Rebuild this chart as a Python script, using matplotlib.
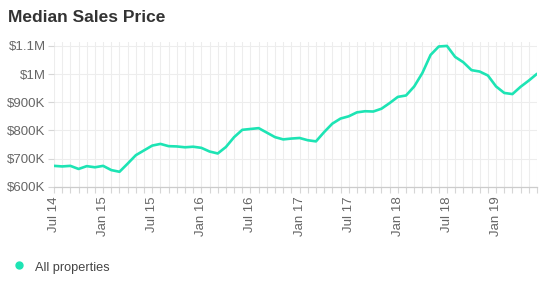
import numpy as np
import pandas as pd
import matplotlib
matplotlib.use("Agg")
import matplotlib.pyplot as plt
from matplotlib.lines import Line2D

# monthly median sales price, Jul 2014 - Jun 2019 (in $K)
months = pd.date_range("2014-07-01", "2019-06-01", freq="MS")
prices = [674, 672, 674, 663, 673, 669, 674, 659, 653, 682, 712, 729,
          746, 752, 744, 743, 740, 742, 738, 725, 718, 741, 776, 802,
          805, 808, 792, 776, 768, 771, 773, 765, 761, 794, 824, 842,
          850, 864, 868, 867, 877, 897, 919, 924, 956, 1004, 1068, 1098,
          1100, 1061, 1042, 1014, 1009, 995, 956, 933, 929, 955, 977, 1001]
y_ticks = [600, 700, 800, 900, 1000, 1100]
y_labels = ["$600K", "$700K", "$800K", "$900K", "$1M", "$1.1M"]
series_name = "All properties"

LINE = "#1de4b4"
GRID = "#ededed"
TICKC = "#666666"

plt.rcParams["font.family"] = ["Liberation Sans", "DejaVu Sans"]

fig = plt.figure(figsize=(5.49, 2.82), dpi=100)
ax = fig.add_axes([54 / 549, 95.3 / 282, 483 / 549, 145 / 282])

x = np.arange(len(months))
ax.plot(x, prices, color=LINE, lw=1.9, solid_joinstyle="round",
        solid_capstyle="round", zorder=3)

ax.set_xlim(0, len(months) - 1)
ax.set_ylim(600, 1115)

# monthly vertical grid, labels every 6 months
ax.set_xticks(x)
ax.set_xticklabels([m.strftime("%b %y") if m.month in (1, 7) else ""
                    for m in months], rotation=90, fontsize=9.5, color=TICKC)
ax.set_yticks(y_ticks)
ax.set_yticklabels(y_labels, fontsize=9.5, color=TICKC)

ax.grid(True, color=GRID, lw=0.8, zorder=0)
ax.tick_params(axis="x", length=4, color="#d6d6d6", pad=3)
ax.tick_params(axis="y", length=4, color="#d6d6d6", pad=2)

for s in ["top", "right", "left"]:
    ax.spines[s].set_visible(False)
ax.spines["bottom"].set_color("#cccccc")
ax.spines["bottom"].set_linewidth(0.9)

fig.text(8 / 549, 1 - 17 / 282, "Median Sales Price", fontsize=12.5,
         fontweight="bold", color="#333333", va="center", ha="left")

# legend
fig.lines.append(Line2D([19 / 549], [1 - 265 / 282], transform=fig.transFigure,
                        marker="o", markersize=5, color=LINE, ls="none"))
fig.text(35 / 549, 1 - 268 / 282, series_name, fontsize=9.2,
         color="#444444", va="center", ha="left")

fig.savefig("out.png", dpi=100)
